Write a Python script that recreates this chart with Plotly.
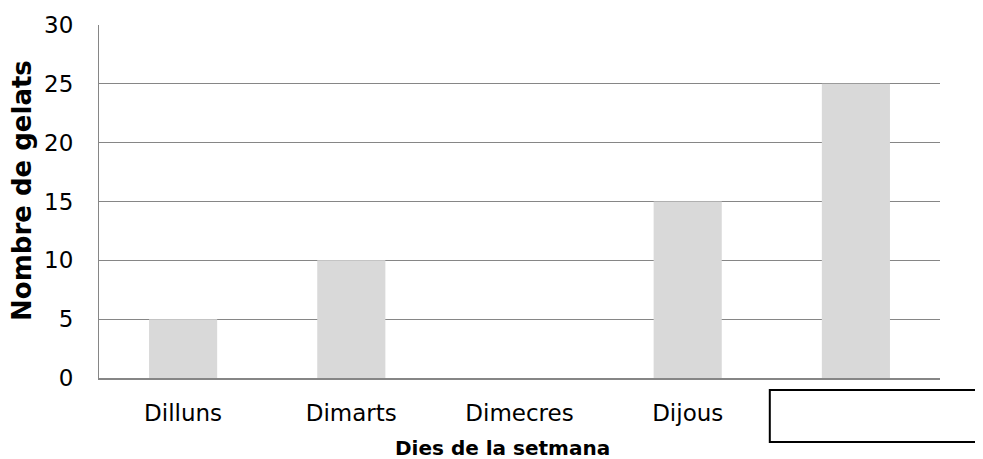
import plotly.graph_objects as go

categories = ["Dilluns", "Dimarts", "Dimecres", "Dijous", "Divendres"]
values = [5, 10, 0, 15, 25]
y_ticks = [0, 5, 10, 15, 20, 25, 30]
x_title = "Dies de la setmana"
y_title = "Nombre de gelats"

fig = go.Figure()
fig.add_trace(go.Bar(x=categories, y=values, marker=dict(color="#d9d9d9", line=dict(width=0))))

# page body has an 8px margin, so margins are compensated
fig.update_layout(
    width=983, height=459,
    margin=dict(l=91, r=51, t=17, b=89),
    paper_bgcolor="white", plot_bgcolor="white",
    bargap=0.595,
    showlegend=False,
    font=dict(family="DejaVu Sans, sans-serif", size=23, color="black"),
)
fig.update_xaxes(
    showgrid=False, showline=True, linecolor="#868686", linewidth=2,
    ticks="", ticklabelstandoff=13, automargin=False,
)
fig.update_yaxes(
    range=[0, 30], tickvals=y_ticks, showgrid=True, gridcolor="#868686", gridwidth=1,
    showline=True, linecolor="#868686", linewidth=1, zeroline=False,
    ticks="", ticklabelstandoff=20, automargin=False,
)
fig.add_annotation(text="<b>" + x_title + "</b>", xref="paper", yref="paper",
                   x=(503 - 100) / 840, y=(378 - 448) / 353, xanchor="center", yanchor="middle",
                   showarrow=False, font=dict(size=20))
fig.add_annotation(text="<b>" + y_title + "</b>", xref="paper", yref="paper",
                   x=(23 - 100) / 840, y=(378 - 190) / 353, xanchor="center", yanchor="middle",
                   textangle=-90, showarrow=False, font=dict(size=26))
fig.add_shape(type="rect", xref="paper", yref="paper",
              x0=(770 - 100) / 840, x1=(984 - 100) / 840,
              y0=(378 - 390) / 353, y1=(378 - 442) / 353,
              fillcolor="white", line=dict(color="black", width=2), layer="above")

fig.write_html("out.html")
